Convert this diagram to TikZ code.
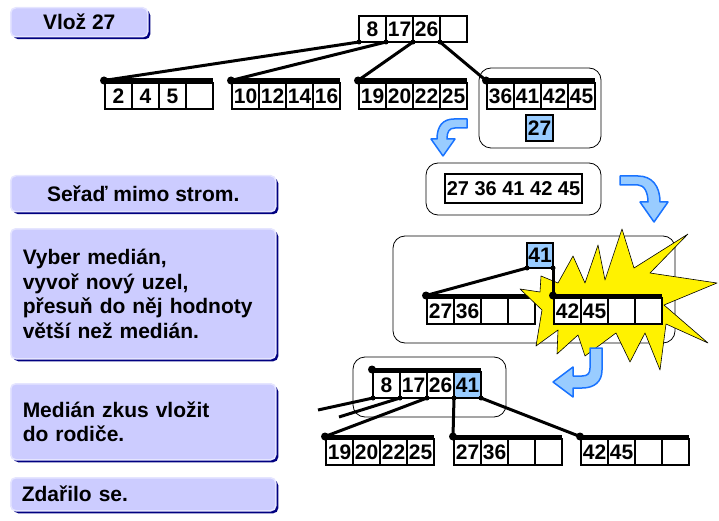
\documentclass[tikz,border=0pt]{standalone}
\usepackage{fontspec}
\setmainfont{Liberation Sans}
\usepackage{tikz}
\usetikzlibrary{positioning,shadows}
\definecolor{c_note}{rgb}{0.8, 0.8, 1.0}
\definecolor{c_noteedge}{rgb}{0.9, 0.9, 1.0}
\definecolor{c_shadow}{rgb}{0.0, 0.0, 0.5}
\definecolor{c_key}{rgb}{0.6, 0.8, 1.0}
\definecolor{c_arrowedge}{rgb}{0.1, 0.45, 1.0}
\tikzset{cell/.style={rectangle, draw=black, line width=1.5pt, fill=white, minimum width=27pt, minimum height=26pt, inner sep=0pt, outer sep=0pt, font=\bfseries\fontsize{21}{21}\selectfont},
keycell/.style={cell, fill=c_key},
notebox/.style={rectangle, rounded corners=5pt, draw=c_noteedge, line width=1.5pt, fill=c_note, inner sep=0pt, anchor=north west, font=\bfseries\fontsize{21}{24.5}\selectfont, drop shadow={shadow xshift=2.5pt, shadow yshift=-2.5pt, fill=c_shadow, opacity=1}},
groupbox/.style={draw=black, rounded corners=12pt, line width=0.8pt},
link/.style={line width=3pt},
keybar/.style={line width=4pt},
turnarrow/.style={fill=c_key, draw=c_arrowedge, line width=1.5pt, line join=round}}
\newcommand{\bnode}[7][cell]{%
\node[cell, anchor=north west] (#2-1) at #3 {#4};
\node[cell, right=0pt of #2-1] (#2-2) {#5};
\node[cell, right=0pt of #2-2] (#2-3) {#6};
\node[#1, right=0pt of #2-3] (#2-4) {#7};}
\newcommand{\bbar}[1]{%
\coordinate (#1-p) at ([shift={(-1pt,2.5pt)}]#1-1.north west);
\draw[keybar] (#1-p) -- ([yshift=2.5pt]#1-4.north east);
\fill (#1-p) circle (4pt);}
\begin{document}
\begin{tikzpicture}[x=1pt, y=-1pt]
\useasboundingbox (0,0) rectangle (719,521);
\node (vloz) [notebox, minimum width=137pt, minimum height=29pt] at (10,7) {Vlož 27};
\node (sort) [notebox, minimum width=265pt, minimum height=36pt] at (10,175) {Seřaď mimo strom.};
\node (split) [notebox, minimum width=265pt, minimum height=130pt, text width=241pt, inner xsep=12pt, align=left] at (10,228) {Vyber medián,\\vyvoř nový uzel,\\přesuň do něj hodnoty\\větší než medián.};
\node (up) [notebox, minimum width=265pt, minimum height=76pt, text width=241pt, inner xsep=12pt, align=left] at (10,383) {Medián zkus vložit\\do rodiče.};
\node (done) [notebox, minimum width=265pt, minimum height=33pt, text width=243pt, inner xsep=11pt, align=left] at (10,477) {Zdařilo se.};

\bnode{root}{(359,16)}{8}{17}{26}{}
\bnode{la}{(105,83)}{2}{4}{5}{}
\bnode{lb}{(232,83)}{10}{12}{14}{16}
\bnode{lc}{(359,83)}{19}{20}{22}{25}
\bnode{ld}{(487,83)}{36}{41}{42}{45}
\foreach \n in {la,lb,lc,ld} {\bbar{\n}}
\foreach \a/\b in {root-1.south west/la, root-1.south east/lb, root-2.south east/lc, root-3.south east/ld} {
\draw [link] (\a) -- (\b-p);
\fill (\a) circle (2.5pt);
}
\draw [groupbox] (479,68) rectangle (601,148);
\node (new) [keycell, anchor=north west] at (526,115) {27};
\draw [turnarrow] (467,119) -- (454,119) .. controls (443,119) and (437,126) .. (437,139) -- (431,139) -- (443,156) -- (455,139) -- (447,139) .. controls (447,132) and (449,128) .. (455,128) -- (467,128) -- cycle;

\draw [groupbox] (426,163) rectangle (601,215);
\node (sorted) [draw, line width=1.2pt, minimum width=137pt, minimum height=29pt, inner sep=0pt, font=\bfseries\fontsize{20}{20}\selectfont] at (513.5,188.5) {27 36 41 42 45};
\draw [turnarrow] (620,176) -- (638,176) .. controls (652,176) and (660,186) .. (660,202) -- (668,202) -- (654,222) -- (640,202) -- (648,202) .. controls (648,192) and (644,185) .. (638,185) -- (620,185) -- cycle;

\draw [groupbox] (393,236) rectangle (675,343);
\node (med) [keycell, anchor=north west, minimum width=26pt, minimum height=25pt] at (527,243) {41};
\bnode{sl}{(427,298)}{27}{36}{}{}
\bbar{sl}
\draw [link] (med.south west) -- (sl-p);
\draw [fill=yellow, draw=black, line width=0.6pt, line join=round] (520,289) -- (540,292) -- (541,276) -- (558,283) -- (573,256) -- (585,283) -- (598,245) -- (605,280) -- (622,229) -- (634,268) -- (688,234) -- (650,273) -- (717,283) -- (664,305) -- (708,343) -- (666,324) -- (660,370) -- (645,333) -- (630,362) -- (616,333) -- (585,356) -- (578,335) -- (557,354) -- (558,330) -- (536,346) -- (542,310) -- cycle;
\bnode{sr}{(554,298)}{42}{45}{}{}
\bbar{sr}
\draw [link] (med.south east) -- (sr-p);
\fill (med.south west) circle (2.5pt) (med.south east) circle (2.5pt);
\draw [turnarrow] (590,348) -- (602,348) -- (602,370) .. controls (602,382) and (594,388) .. (582,388) -- (573,388) -- (573,397) -- (553,382) -- (573,367) -- (573,376) -- (582,376) .. controls (588,376) and (590,373) .. (590,368) -- cycle;

\draw [groupbox] (353,357) rectangle (506,417);
\bnode[keycell]{nr}{(373,372)}{8}{17}{26}{41}
\bnode{ba}{(326,439)}{19}{20}{22}{25}
\bnode{bb}{(454,439)}{27}{36}{}{}
\bnode{bc}{(581,439)}{42}{45}{}{}
\foreach \n in {nr,ba,bb,bc} {\bbar{\n}}
\coordinate (cut1) at (318,410);
\coordinate (cut2) at (339,417);
\foreach \a/\b in {nr-1.south west/cut1, nr-1.south east/cut2, nr-2.south east/ba-p, nr-3.south east/bb-p, nr-4.south east/bc-p} {
\draw [link] (\a) -- (\b);
\fill (\a) circle (2.5pt);
}
\end{tikzpicture}
\end{document}
